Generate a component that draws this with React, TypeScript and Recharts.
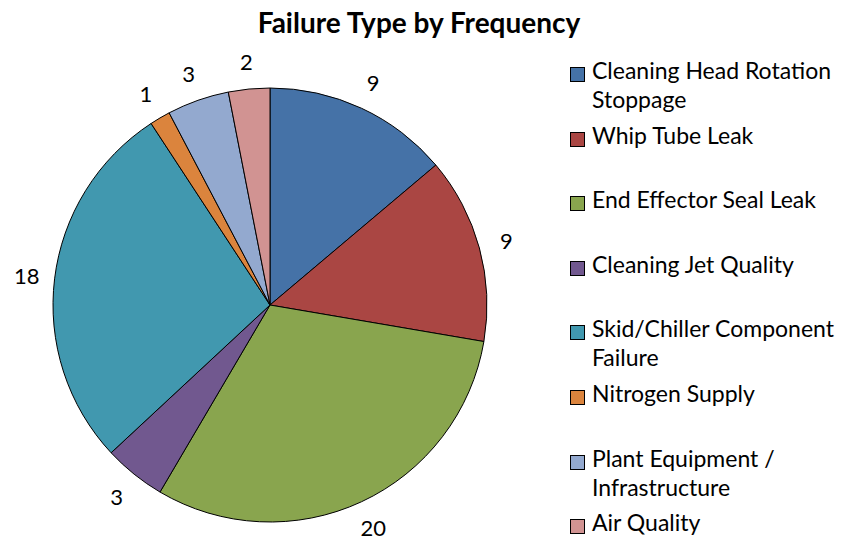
import { PieChart, Pie, Cell, Legend } from 'recharts';

const categories = [
  'Cleaning Head Rotation Stoppage',
  'Whip Tube Leak',
  'End Effector Seal Leak',
  'Cleaning Jet Quality',
  'Skid/Chiller Component Failure',
  'Nitrogen Supply',
  'Plant Equipment / Infrastructure',
  'Air Quality',
];

const frequencies = [9, 9, 20, 3, 18, 1, 3, 2];

const colors = ['#4572A7', '#AA4643', '#89A54E', '#71588F', '#4198AF', '#DB843D', '#93A9CF', '#D19392'];

const data = categories.map((name, i) => ({ name, value: frequencies[i] }));

const FONT = 'Lato, "Open Sans", sans-serif';
const RADIAN = Math.PI / 180;

// value labels sit just outside the rim
const renderLabel = (props: any) => {
  const { cx, cy, midAngle, outerRadius, value } = props;
  const r = outerRadius + 28;
  const x = cx + r * Math.cos(-midAngle * RADIAN);
  const y = cy + r * Math.sin(-midAngle * RADIAN);
  return (
    <text x={x} y={y} textAnchor="middle" dominantBaseline="central" fontSize={22} fontFamily={FONT} fill="#000">
      {value}
    </text>
  );
};

const renderLegend = () => (
  <div style={{ fontFamily: FONT, fontSize: 23, color: '#000' }}>
    {data.map((d, i) => (
      <div key={d.name} style={{ display: 'flex', alignItems: 'flex-start', height: 64.6 }}>
        <div
          style={{
            width: 13,
            height: 13,
            background: colors[i],
            border: '1px solid #000',
            marginTop: 5,
            marginRight: 7,
            flexShrink: 0,
          }}
        />
        <div style={{ width: 262, lineHeight: '29px', marginTop: -6, whiteSpace: 'normal' }}>{d.name}</div>
      </div>
    ))}
  </div>
);

export default function App() {
  return (
    <div style={{ position: 'absolute', left: 0, top: 0, width: 849, height: 540, background: '#fff' }}>
      <div
        style={{
          position: 'absolute',
          left: 0,
          width: 838,
          top: 5,
          textAlign: 'center',
          fontFamily: FONT,
          fontWeight: 'bold',
          fontSize: 28,
          color: '#000',
        }}
      >
        Failure Type by Frequency
      </div>
      <PieChart width={849} height={540} margin={{ top: 0, right: 0, bottom: 0, left: 0 }}>
        <Pie
          data={data}
          dataKey="value"
          nameKey="name"
          cx={270}
          cy={305}
          outerRadius={217}
          startAngle={90}
          endAngle={-270}
          stroke="#000"
          strokeWidth={1}
          label={renderLabel}
          labelLine={false}
          isAnimationActive={false}
        >
          {data.map((d, i) => (
            <Cell key={d.name} fill={colors[i]} />
          ))}
        </Pie>
        <Legend
          content={renderLegend}
          wrapperStyle={{ position: 'absolute', left: 570, top: 62, width: 279 }}
        />
      </PieChart>
    </div>
  );
}
